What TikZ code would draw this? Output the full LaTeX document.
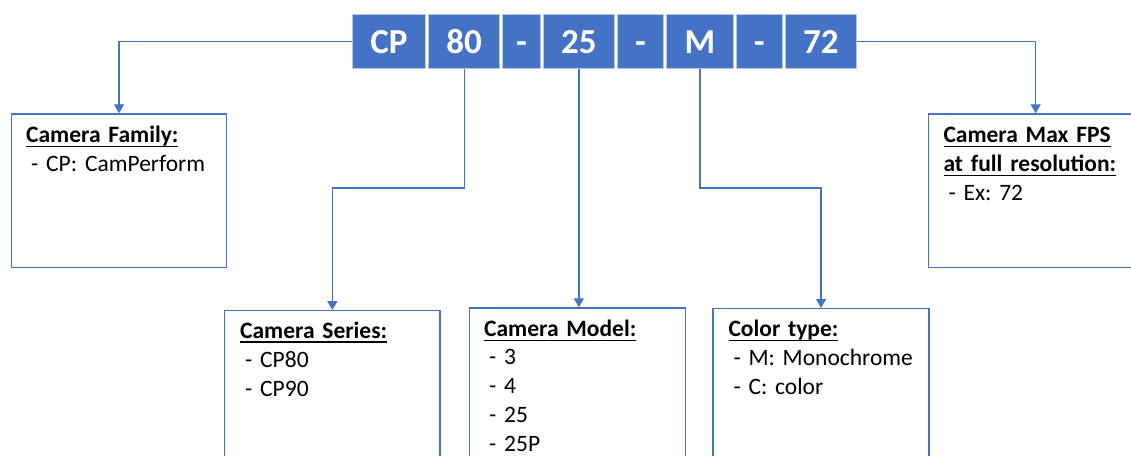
\documentclass[tikz,border=0pt]{standalone}
\usepackage{fontspec}
\setmainfont{Carlito}
\usepackage{tikz}
\usetikzlibrary{positioning,calc,arrows.meta}
\definecolor{codeblue}{HTML}{4472C4}
\definecolor{codeedge}{HTML}{B4C7E7}
\frenchspacing
\newcommand{\headline}[1]{\leavevmode\setbox0=\hbox{\bfseries #1}\rlap{\rule[-4.5pt]{\wd0}{1.5pt}}\box0}
\newcommand{\dashitem}{\hspace*{5pt}-\ }

\tikzset{
  codebox/.style={fill=codeblue, draw=codeedge, line width=1pt, text=white,
    font=\fontsize{35}{40}\selectfont\bfseries, minimum height=54pt, inner sep=0pt,
    text height=23pt, text depth=0pt},
  descbox/.style={draw=codeblue, line width=1.4pt, anchor=north west, inner sep=0pt},
  desctext/.style={anchor=base west, inner sep=0pt, align=left, text width=200pt,
    font=\fontsize{23.5}{29}\selectfont},
  link/.style={draw=codeblue, line width=1.3pt, -{Triangle[width=10pt,length=9pt]}}
}

\begin{document}
\begin{tikzpicture}[x=1pt,y=-1pt]
	\useasboundingbox (0,0) rectangle (1131,455);
	% part number
	\node[codebox, minimum width=73.3pt, anchor=north west] (cp) at (351.7,14) {CP};
	\node[codebox, minimum width=71.3pt, right=2pt of cp] (s80) {80};
	\node[codebox, minimum width=37.4pt, right=2pt of s80] (d1) {-};
	\node[codebox, minimum width=71.3pt, right=2pt of d1] (s25) {25};
	\node[codebox, minimum width=46pt, right=2pt of s25] (d2) {-};
	\node[codebox, minimum width=66.7pt, right=2pt of d2] (sM) {M};
	\node[codebox, minimum width=46pt, right=2pt of sM] (d3) {-};
	\node[codebox, minimum width=71.3pt, right=2pt of d3] (s72) {72};
	% description boxes
	\node[descbox, minimum width=215.3pt, minimum height=153.4pt] (fam) at (10.7,113.3) {};
	\node[descbox, minimum width=214pt, minimum height=153.4pt] (fps) at (928,113.3) {};
	\node[descbox, minimum width=215.3pt, minimum height=160pt] (ser) at (224,310) {};
	\node[descbox, minimum width=216pt, minimum height=160pt] (mod) at (469,307.3) {};
	\node[descbox, minimum width=216pt, minimum height=160pt] (col) at (712.3,308) {};
	\node[desctext] (famtxt) at ($(fam.north west)+(15.3,29.4)$)
		{\headline{Camera Family:}\\ \dashitem CP: CamPerform};
	\node[desctext] (fpstxt) at ($(fps.north west)+(15.3,29.4)$)
		{\headline{Camera Max FPS}\\ \headline{at full resolution:}\\ \dashitem Ex: 72};
	\node[desctext] (sertxt) at ($(ser.north west)+(16,28)$)
		{\headline{Camera Series:}\\ \dashitem CP80\\ \dashitem CP90};
	\node[desctext] (modtxt) at ($(mod.north west)+(15,29.4)$)
		{\headline{Camera Model:}\\[-1pt] \dashitem 3\\ \dashitem 4\\ \dashitem 25\\ \dashitem 25P};
	\node[desctext] (coltxt) at ($(col.north west)+(16,28.7)$)
		{\headline{Color type:}\\ \dashitem M: Monochrome\\ \dashitem C: color};
	% links
	\draw[link] (cp.west) -| (fam.north);
	\draw[link] (s72.east) -| (fps.north);
	\draw[link] (s80.south) -- ++(0,119) -| (ser.north);
	\draw[link] (s25.south) -- (s25.south |- mod.north);
	\draw[link] (sM.south) -- ++(0,119) -| (col.north);
\end{tikzpicture}
\end{document}
